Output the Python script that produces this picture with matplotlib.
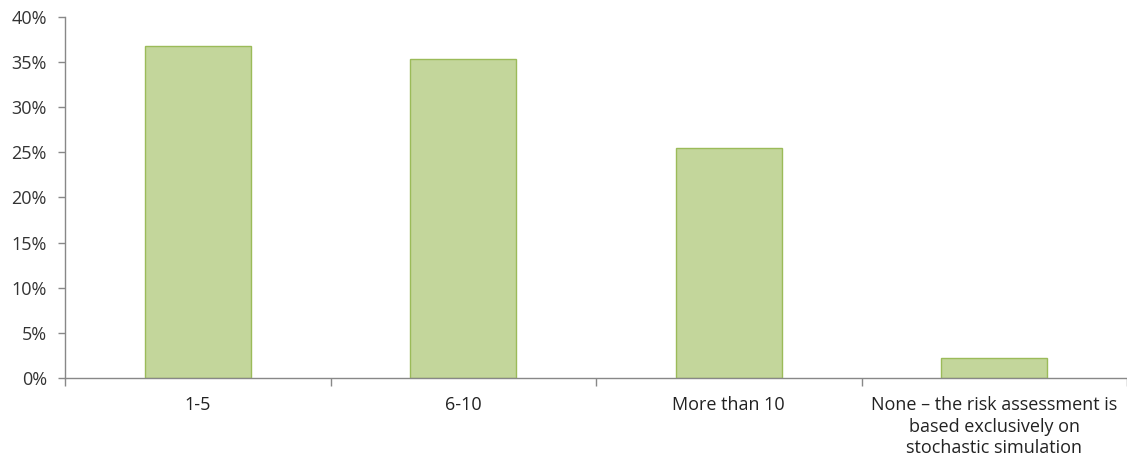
import matplotlib
matplotlib.use("Agg")
import matplotlib.pyplot as plt
import numpy as np
from matplotlib.ticker import FixedLocator, FuncFormatter

categories = ["1-5", "6-10", "More than 10",
              "None \u2013 the risk assessment is\nbased exclusively on\nstochastic simulation"]
shares = [36.8, 35.35, 25.5, 2.2]
y_ticks = [0, 5, 10, 15, 20, 25, 30, 35, 40]

plt.rcParams['font.family'] = ['Open Sans', 'DejaVu Sans']

W, H = 1127, 473
fig = plt.figure(figsize=(W / 100, H / 100), dpi=100)
ax = fig.add_axes([65 / W, (H - 378) / H, (W - 65) / W, (378 - 17) / H])

x = np.arange(len(categories))
ax.bar(x, shares, width=0.4, color="#C3D69B", edgecolor="#9BBB59", linewidth=1.0, zorder=2)

ax.set_xlim(-0.5, len(categories) - 0.5)
ax.set_ylim(0, 40)
ax.set_yticks(y_ticks)
ax.yaxis.set_major_formatter(FuncFormatter(lambda v, p: f"{v:.0f}%"))

ax.set_xticks(x)
ax.set_xticklabels(categories, linespacing=1.25)
ax.xaxis.set_minor_locator(FixedLocator(np.arange(-0.5, len(categories), 1.0)))

for side in ("top", "right"):
    ax.spines[side].set_visible(False)
for side in ("left", "bottom"):
    ax.spines[side].set_color("#888888")
    ax.spines[side].set_linewidth(1.0)

ax.tick_params(axis="y", length=5, width=1.0, color="#888888", labelsize=13,
               labelcolor="#333333", pad=8)
ax.tick_params(axis="x", which="major", length=0, labelsize=13, labelcolor="#222222", pad=13)
ax.tick_params(axis="x", which="minor", length=6, width=1.0, color="#888888")

fig.savefig("out.png", dpi=100)
